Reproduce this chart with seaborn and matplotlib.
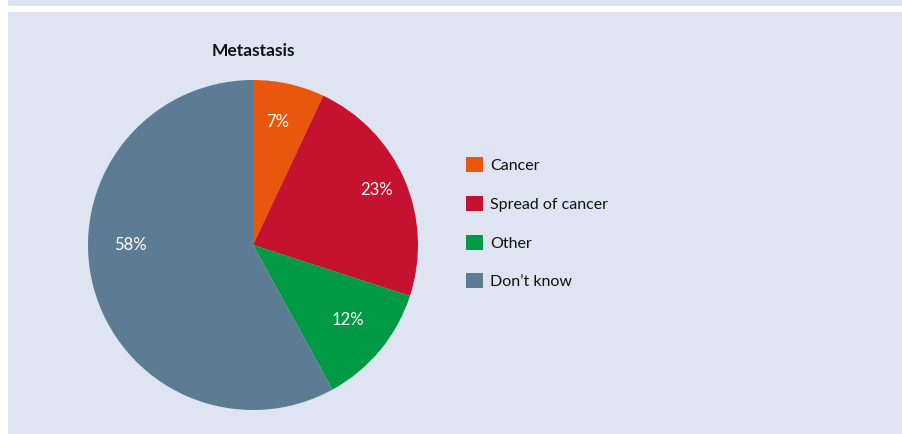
import matplotlib
matplotlib.use("Agg")
import matplotlib.pyplot as plt
from matplotlib.patches import Rectangle, Patch
import seaborn as sns

# Responses to "What does metastasis mean?"
categories = ["Cancer", "Spread of cancer", "Other", "Don\u2019t know"]
shares = [7, 23, 12, 58]
colors = ["#E8570C", "#C41230", "#009A44", "#5B7C92"]
title = "Metastasis"

# where each percentage label sits inside the pie (unit-radius coordinates)
label_xy = [(0.15, 0.745), (0.75, 0.335), (0.575, -0.455), (-0.74, 0.0)]

sns.set_theme(style="white")
plt.rcParams["font.family"] = ["Lato", "DejaVu Sans"]

W, H = 903, 434
panel = "#DFE4F3"
fig = plt.figure(figsize=(W / 100, H / 100), dpi=100, facecolor="white")

# panel background with thin white rule near the top
fig.patches.append(Rectangle((8 / W, 0), 1, (H - 12) / H, transform=fig.transFigure,
                             facecolor=panel, edgecolor="none", zorder=-5))
fig.patches.append(Rectangle((8 / W, (H - 6) / H), 1, 6 / H, transform=fig.transFigure,
                             facecolor=panel, edgecolor="none", zorder=-5))

# pie axes: centre (253, 245) px, radius 165 px
cx, cy, r = 253, 245, 165
ax = fig.add_axes([(cx - r) / W, (H - cy - r) / H, 2 * r / W, 2 * r / H])
ax.set_zorder(2)
ax.set_facecolor("none")
wedges, _, autotexts = ax.pie(
    shares, colors=colors, startangle=90, counterclock=False,
    autopct=lambda p: f"{p:.0f}%", pctdistance=0.75,
    wedgeprops=dict(linewidth=0, antialiased=True),
    textprops=dict(color="white", fontsize=12),
)
for t, xy in zip(autotexts, label_xy):
    t.set_position(xy)
ax.set_xlim(-1, 1)
ax.set_ylim(-1, 1)
ax.set_aspect("equal")
ax.axis("off")

fig.text(cx / W, 1 - 51 / H, title, ha="center", va="center",
         fontsize=12.5, fontweight="bold", color="#111111")

handles = [Patch(facecolor=c, edgecolor="none") for c in colors]
leg = fig.legend(handles, categories, loc="upper left",
                 bbox_to_anchor=(452 / W, 1 - 143 / H), frameon=False,
                 fontsize=11.5, handlelength=1.05, handleheight=1.05,
                 handletextpad=0.45, labelspacing=1.43, labelcolor="#111111")
leg.set_zorder(3)

fig.savefig("out.png", dpi=100, facecolor="white")
